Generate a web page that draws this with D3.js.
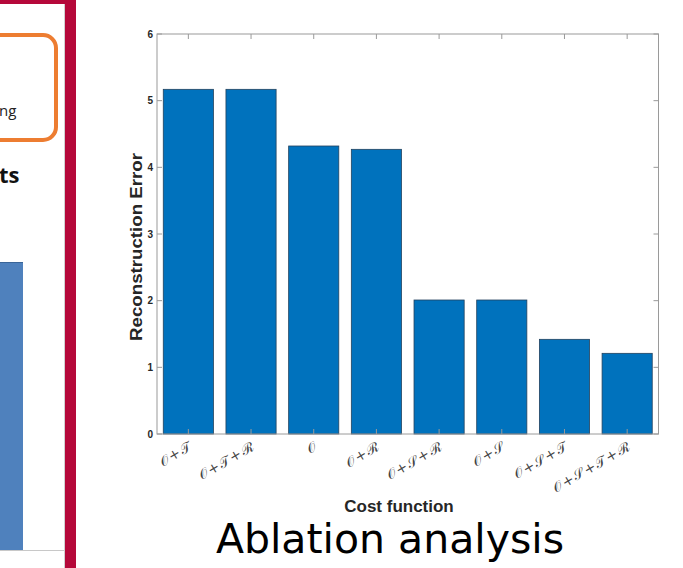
<!DOCTYPE html>
<html>
<head>
<meta charset="utf-8">
<script src="https://cdn.jsdelivr.net/npm/d3@7"></script>
<style>
  html, body { margin: 0; padding: 0; background: #fff; }
  svg { display: block; }
</style>
</head>
<body>
<svg id="slide" width="683" height="568"></svg>
<script>
// Cost-function ablation: reconstruction error per combination of terms
const categories = ["𝒪+𝒯", "𝒪+𝒯+ℛ", "𝒪", "𝒪+ℛ", "𝒪+𝒮+ℛ", "𝒪+𝒮", "𝒪+𝒮+𝒯", "𝒪+𝒮+𝒯+ℛ"];
const errors = [5.17, 5.17, 4.32, 4.27, 2.01, 2.01, 1.42, 1.21];
const yTicks = [0, 1, 2, 3, 4, 5, 6];

const svg = d3.select("#slide");

// ---- neighbouring slide panel on the left ----
const crimson = "#b5083a";
svg.append("line").attr("x1", 64.5).attr("x2", 64.5).attr("y1", 4).attr("y2", 568)
  .attr("stroke", "#d0d0d0").attr("stroke-width", 1);
svg.append("line").attr("x1", 0).attr("x2", 64).attr("y1", 550.5).attr("y2", 550.5)
  .attr("stroke", "#c8c8c8").attr("stroke-width", 1);
svg.append("rect").attr("x", 0).attr("y", 262).attr("width", 23).attr("height", 288)
  .attr("fill", "#4f81bd");
svg.append("line").attr("x1", 0).attr("x2", 23).attr("y1", 262.5).attr("y2", 262.5)
  .attr("stroke", "#3a6598").attr("stroke-width", 1);
svg.append("rect").attr("x", 65).attr("y", 0).attr("width", 11).attr("height", 568).attr("fill", crimson);
svg.append("rect").attr("x", 0).attr("y", 0).attr("width", 76).attr("height", 4).attr("fill", crimson);
svg.append("rect").attr("x", -30).attr("y", 35).attr("width", 86).attr("height", 105)
  .attr("rx", 13).attr("fill", "none").attr("stroke", "#ed7d31").attr("stroke-width", 4);
svg.append("text").attr("x", -1).attr("y", 116).text("ng")
  .attr("font-family", "'Open Sans', sans-serif").attr("font-size", 15).attr("fill", "#222");
svg.append("text").attr("x", -1).attr("y", 183).text("ts")
  .attr("font-family", "'Open Sans', sans-serif").attr("font-weight", 700)
  .attr("font-size", 22).attr("fill", "#111");

// ---- bar chart ----
const plotLeft = 157, plotRight = 658.5, plotTop = 34, plotBottom = 434;
const x = d3.scaleBand().domain(categories).range([plotLeft, plotRight])
  .paddingInner(0.2).paddingOuter(0.1);
const y = d3.scaleLinear().domain([0, 6]).range([plotBottom, plotTop]);
const axisColor = "#9a9a9a";
const g = svg.append("g");

g.selectAll("rect.bar").data(errors).enter().append("rect")
  .attr("class", "bar")
  .attr("x", (d, i) => x(categories[i]))
  .attr("width", x.bandwidth())
  .attr("y", d => y(d))
  .attr("height", d => y(0) - y(d))
  .attr("fill", "#0072bd")
  .attr("stroke", "#23425e")
  .attr("stroke-width", 0.8);

// box
g.append("rect").attr("x", plotLeft).attr("y", plotTop)
  .attr("width", plotRight - plotLeft).attr("height", plotBottom - plotTop)
  .attr("fill", "none").attr("stroke", axisColor).attr("stroke-width", 1);

// inward ticks on all four sides
const tl = 5;
categories.forEach(c => {
  const cx = x(c) + x.bandwidth() / 2;
  g.append("line").attr("x1", cx).attr("x2", cx).attr("y1", plotBottom).attr("y2", plotBottom - tl)
    .attr("stroke", axisColor);
  g.append("line").attr("x1", cx).attr("x2", cx).attr("y1", plotTop).attr("y2", plotTop + tl)
    .attr("stroke", axisColor);
});
yTicks.forEach(t => {
  g.append("line").attr("x1", plotLeft).attr("x2", plotLeft + tl).attr("y1", y(t)).attr("y2", y(t))
    .attr("stroke", axisColor);
  g.append("line").attr("x1", plotRight).attr("x2", plotRight - tl).attr("y1", y(t)).attr("y2", y(t))
    .attr("stroke", axisColor);
});

// y tick labels
g.selectAll("text.ytick").data(yTicks).enter().append("text")
  .attr("class", "ytick")
  .attr("x", plotLeft - 4).attr("y", d => y(d)).attr("dy", "0.35em")
  .attr("text-anchor", "end")
  .attr("font-family", "'Liberation Sans', Arial, sans-serif")
  .attr("font-weight", 700).attr("font-size", 10).attr("fill", "#262626")
  .text(d => d);

// rotated category labels
g.selectAll("text.xtick").data(categories).enter().append("text")
  .attr("class", "xtick")
  .attr("transform", d => `translate(${x(d) + x.bandwidth() / 2 + 5},${plotBottom + 15}) rotate(-30)`)
  .attr("text-anchor", "end")
  .attr("font-family", "'DejaVu Serif', serif")
  .attr("font-size", 14).attr("letter-spacing", 1.2).attr("fill", "#444")
  .text(d => d);

// axis titles
svg.append("text")
  .attr("transform", `translate(${plotLeft - 15},247) rotate(-90) scale(1.1,1)`)
  .attr("text-anchor", "middle")
  .attr("font-family", "'Liberation Sans', Arial, sans-serif")
  .attr("font-weight", 700).attr("font-size", 17).attr("fill", "#262626")
  .text("Reconstruction Error");
svg.append("text")
  .attr("x", 399).attr("y", 512)
  .attr("text-anchor", "middle")
  .attr("font-family", "'Liberation Sans', Arial, sans-serif")
  .attr("font-weight", 700).attr("font-size", 17).attr("fill", "#262626")
  .text("Cost function");

// slide caption
svg.append("text")
  .attr("x", 390).attr("y", 553)
  .attr("text-anchor", "middle")
  .attr("font-family", "'DejaVu Sans', sans-serif")
  .attr("font-size", 41).attr("fill", "#000")
  .text("Ablation analysis");
</script>
</body>
</html>
